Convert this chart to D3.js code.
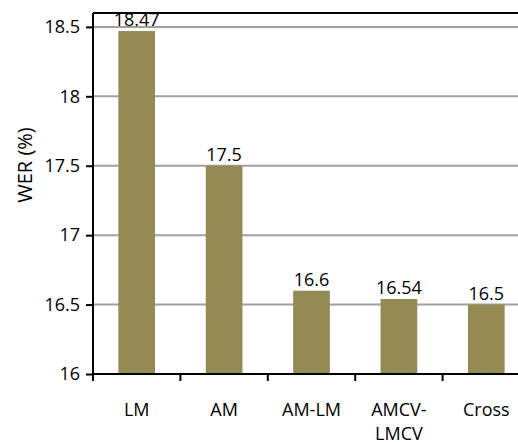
<!DOCTYPE html>
<html lang="en">
<head>
  <meta charset="UTF-8">
  <title>WER chart</title>
  <script src="https://d3js.org/d3.v7.min.js"></script>
  <style>
    body {
      margin: 0;
      background-color: #ffffff;
      font-family: "Open Sans", sans-serif;
    }
    svg {
      display: block;
    }
  </style>
</head>
<body>
  <div id="chart"></div>

  <script>
    // chart data
    const categories = ['LM', 'AM', 'AM-LM', 'AMCV-LMCV', 'Cross'];
    const categoryLines = [['LM'], ['AM'], ['AM-LM'], ['AMCV-', 'LMCV'], ['Cross']];
    const werValues = [18.47, 17.5, 16.6, 16.54, 16.5];
    const yTicks = [16, 16.5, 17, 17.5, 18, 18.5];

    const width = 518, height = 442;
    const margin = { top: 13, right: -12, bottom: 68, left: 93 };
    const plotW = width - margin.left - margin.right;
    const plotH = height - margin.top - margin.bottom;

    const svg = d3.select('#chart')
      .append('svg')
      .attr('width', width)
      .attr('height', height);

    const g = svg.append('g')
      .attr('transform', `translate(${margin.left}, ${margin.top})`);

    const x = d3.scaleBand()
      .domain(categories)
      .range([0, plotW])
      .paddingInner(0.58)
      .paddingOuter(0.29);

    const y = d3.scaleLinear()
      .domain([16, 18.6])
      .range([plotH, 0]);

    // gridlines
    g.selectAll('line.grid')
      .data(yTicks.filter(d => d > 16))
      .enter()
      .append('line')
      .attr('class', 'grid')
      .attr('x1', 0)
      .attr('x2', plotW)
      .attr('y1', d => y(d))
      .attr('y2', d => y(d))
      .attr('stroke', '#a0a0a0')
      .attr('stroke-width', 2);

    // top border
    g.append('line')
      .attr('x1', 0).attr('x2', plotW)
      .attr('y1', 0).attr('y2', 0)
      .attr('stroke', '#000').attr('stroke-width', 2);

    // bars
    g.selectAll('rect.bar')
      .data(werValues)
      .enter()
      .append('rect')
      .attr('class', 'bar')
      .attr('x', (d, i) => x(categories[i]))
      .attr('y', d => y(d))
      .attr('width', x.bandwidth())
      .attr('height', d => plotH - y(d))
      .attr('fill', '#948a54');

    // value labels
    g.selectAll('text.val')
      .data(werValues)
      .enter()
      .append('text')
      .attr('class', 'val')
      .attr('x', (d, i) => x(categories[i]) + x.bandwidth() / 2)
      .attr('y', d => y(d) - 5)
      .attr('text-anchor', 'middle')
      .attr('font-size', 18)
      .attr('fill', '#000')
      .text(d => d);

    // y axis
    const yAxis = g.append('g')
      .call(d3.axisLeft(y).tickValues(yTicks).tickSize(7).tickPadding(6).tickFormat(d => d));
    yAxis.select('.domain').attr('stroke', '#000').attr('stroke-width', 2)
      .attr('d', `M0,0V${plotH}`);
    yAxis.selectAll('.tick line').attr('stroke', '#000').attr('stroke-width', 2);
    yAxis.selectAll('.tick text')
      .attr('font-size', 18)
      .attr('font-family', '"Open Sans", sans-serif')
      .attr('fill', '#000');

    // x axis: ticks at band boundaries
    const xAxis = g.append('g').attr('transform', `translate(0, ${plotH})`);
    xAxis.append('line')
      .attr('x1', 0).attr('x2', plotW)
      .attr('y1', 0).attr('y2', 0)
      .attr('stroke', '#000').attr('stroke-width', 2);
    const step = x.step();
    const bounds = d3.range(categories.length + 1).map(i => i * step);
    xAxis.selectAll('line.xtick')
      .data(bounds)
      .enter()
      .append('line')
      .attr('class', 'xtick')
      .attr('x1', d => d).attr('x2', d => d)
      .attr('y1', 0).attr('y2', 7)
      .attr('stroke', '#000').attr('stroke-width', 2);

    const xLabels = xAxis.selectAll('text.xlab')
      .data(categoryLines)
      .enter()
      .append('text')
      .attr('class', 'xlab')
      .attr('text-anchor', 'middle')
      .attr('font-size', 18)
      .attr('fill', '#000')
      .attr('transform', (d, i) => `translate(${x(categories[i]) + x.bandwidth() / 2}, 42)`);
    xLabels.selectAll('tspan')
      .data(d => d)
      .enter()
      .append('tspan')
      .attr('x', 0)
      .attr('dy', (d, i) => i === 0 ? 0 : 24)
      .text(d => d);

    // y axis title
    svg.append('text')
      .attr('transform', 'translate(32, 165) rotate(-90)')
      .attr('text-anchor', 'middle')
      .attr('font-size', 20)
      .attr('fill', '#000')
      .text('WER (%)');
  </script>
</body>
</html>
